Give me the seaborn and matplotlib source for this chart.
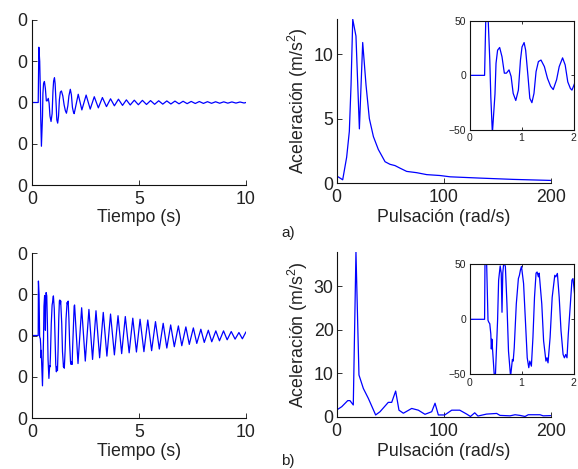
import matplotlib
matplotlib.use("Agg")
import matplotlib.pyplot as plt
import seaborn as sns
import pandas as pd

# ---------------- data ----------------
# a) time response (s, m/s^2)
t_a = [0, 0.29, 0.32, 0.36, 0.39, 0.41, 0.44, 0.49, 0.51, 0.54, 0.58, 0.625, 0.67, 0.71,
       0.76, 0.80, 0.84, 0.89, 0.94, 0.98, 1.01, 1.05, 1.08, 1.125, 1.16, 1.20, 1.24, 1.28,
       1.325, 1.375, 1.44, 1.50, 1.56, 1.61, 1.675, 1.725, 1.79, 1.84, 1.89, 1.94, 1.97, 2.00,
       2.16, 2.33, 2.53, 2.72, 2.91, 3.10, 3.29, 3.48, 3.67, 3.85, 4.04, 4.23, 4.41, 4.59,
       4.78, 4.97, 5.16, 5.35, 5.54, 5.73, 5.92, 6.11, 6.30, 6.49, 6.68, 6.87, 7.06, 7.25,
       7.44, 7.63, 7.82, 8.01, 8.20, 8.39, 8.58, 8.77, 8.96, 9.15, 9.34, 9.53, 9.72, 9.91, 10.0]
acc_a = [0, 0, 67, 50, 14, -20, -53, -17, 11, 23, 25.5, 17, 2, 2,
         5, -1, -16.5, -23, -13.5, 14, 26, 30, 23, -1, -21, -25, -16.5, 3.4,
         12.6, 14, 8, -2.8, -10, -13, -4, 8, 16, 9.5, -6, -12, -13.5, -10,
         10, -9, 9, -8, 7, -6.5, 6, -5, 4.5, -4, 4, -3.5, 3.2, -3,
         2.8, -2.7, 2.6, -2.4, 2.3, -2.2, 2.1, -2.0, 1.9, -1.8, 1.7, -1.6, 1.5, -1.4,
         1.3, -1.2, 1.2, -1.1, 1.0, -1.0, 0.9, -0.9, 0.8, -0.8, 0.7, -0.7, 0.6, -0.6, 0]

# b) time response (s, m/s^2)
t_b = [0, 0.29, 0.30, 0.33, 0.356, 0.375, 0.39, 0.41, 0.42, 0.43, 0.45, 0.49, 0.54, 0.56,
       0.59, 0.61, 0.625, 0.64, 0.66, 0.69, 0.72, 0.75, 0.79, 0.825, 0.84, 0.86, 0.90, 0.94,
       0.96, 0.98, 1.00, 1.04, 1.075, 1.11, 1.14, 1.16, 1.19, 1.22, 1.25, 1.28, 1.30, 1.325,
       1.34, 1.39, 1.425, 1.47, 1.49, 1.51, 1.55, 1.59, 1.64, 1.66, 1.69, 1.725, 1.76, 1.80,
       1.825, 1.85, 1.875, 1.90, 1.94, 1.97, 1.99, 2.15, 2.32, 2.49, 2.66, 2.83, 2.99, 3.16,
       3.33, 3.50, 3.67, 3.85, 4.02, 4.19, 4.36, 4.54, 4.71, 4.88, 5.05, 5.23, 5.41, 5.59,
       5.77, 5.95, 6.13, 6.30, 6.48, 6.65, 6.84, 7.00, 7.19, 7.35, 7.54, 7.70, 7.89, 8.05,
       8.24, 8.40, 8.59, 8.76, 8.95, 9.12, 9.31, 9.49, 9.67, 9.83, 10.0]
acc_b = [0, 0, 66, 50, -1, -3, -4, -13.5, -27, -18, -32, -61, -1, 35.6,
         48.5, 42, 6.4, 42, 52, 48, 14, -29, -52, -36.5, -38, -26, 14, 37,
         40, 45, 48, 32.5, -1, -35, -44, -38, -42.6, -16.5, 20, 42, 43, 38.6,
         42, 14, -19.6, -38, -35, -39.6, -16.5, 20, 40, 38.6, 41.7, 20, -10.4, -32,
         -35, -32, -35, -13.5, 14, 35.6, 37, -34, 33.6, -31, 31.6, -29, 30, -27,
         28, -25, 26, -23.5, 24, -22, 23, -21, 21, -20, 19.7, -19.6, 18.8, -18.4,
         16.8, -16.4, 14.8, -15.2, 12.8, -13.6, 11.6, -12.4, 10.4, -10.8, 9.2, -9.6, 7.6, -8.4,
         6.4, -7.6, 5.6, -6.4, 5.6, -5.2, 4.8, -4.4, 3.6, -4.0, 4.4]

# a) spectrum (rad/s, m/s^2)
w_a = [0, 5.6, 9.3, 11.8, 13.4, 15.0, 18.0, 21.2, 24.3, 27.4, 30.5, 34.3, 38.9, 45.2,
       49.8, 54.5, 59.2, 65.4, 74.8, 84.1, 96.6, 106, 134, 165, 200]
spec_a = [0.55, 0.25, 2.0, 4.0, 7.6, 12.7, 11.4, 4.2, 10.9, 7.6, 5.0, 3.6, 2.6, 1.65,
          1.45, 1.35, 1.15, 0.9, 0.8, 0.65, 0.58, 0.48, 0.38, 0.28, 0.2]

# b) spectrum (rad/s, m/s^2)
w_b = [0, 4.7, 10.3, 12.4, 15.5, 18.0, 20.8, 24.9, 29.6, 36.4, 40.5, 48.2, 51.4, 55.1,
       58.2, 62.3, 70.1, 76.3, 82.5, 88.8, 91.9, 95.0, 101, 107.5, 115, 121.5, 125, 129,
       132, 140, 149.5, 152.6, 162, 166.7, 171.3, 176, 179, 190, 193, 200]
spec_b = [1.54, 2.3, 3.7, 3.7, 2.7, 37.9, 9.6, 6.5, 4.2, 0.4, 1.15, 3.3, 3.3, 5.9,
          1.5, 0.8, 1.9, 1.5, 0.55, 1.15, 3.1, 0.4, 0.4, 1.5, 1.5, 0.6, 0.05, 0.9,
          0.15, 0.6, 0.75, 0.3, 0.2, 0.45, 0.3, 0.05, 0.45, 0.45, 0.2, 0.25]

time_ticks = [0, 5, 10]
time_yticks = [-100, -50, 0, 50, 100]
# only the last digit of each label is visible in the (cropped) reference
time_yticklabels = ["0", "0", "0", "0", "0"]
freq_ticks = [0, 100, 200]
spec_a_ticks = [0, 5, 10]
spec_b_ticks = [0, 10, 20, 30]
inset_xticks = [0, 1, 2]
inset_yticks = [-50, 0, 50]
inset_yticklabels = ["\u221250", "0", "50"]
panel_labels = ["a)", "b)"]

# ---------------- style ----------------
sns.set_theme(style="ticks")
plt.rcParams["font.family"] = ["Liberation Sans", "DejaVu Sans"]
plt.rcParams["mathtext.fontset"] = "custom"
plt.rcParams["mathtext.rm"] = "Liberation Sans"
plt.rcParams["mathtext.default"] = "regular"
TXT = "#222222"
BLUE = "#0000ff"
LW = 0.9
FS = 12.8

W, H = 578, 469
fig = plt.figure(figsize=(W / 100, H / 100), dpi=100)


def rect(x0, y0, x1, y1):
    return [x0 / W, (H - y1) / H, (x1 - x0) / W, (y1 - y0) / H]


def main_style(ax):
    sns.despine(ax=ax)
    for s in ("left", "bottom"):
        ax.spines[s].set_linewidth(0.8)
        ax.spines[s].set_color("#111111")
    ax.tick_params(direction="in", length=3.5, width=0.6, labelsize=FS,
                   colors="#111111", labelcolor=TXT)


def draw(ax, x, y):
    df = pd.DataFrame({"x": x, "y": y})
    sns.lineplot(data=df, x="x", y="y", ax=ax, color=BLUE, linewidth=LW,
                 estimator=None, sort=False)
    ax.set_xlabel("")
    ax.set_ylabel("")


rows = [
    dict(t=t_a, a=acc_a, w=w_a, s=spec_a, sticks=spec_a_ticks,
         left=(32, 20, 246, 185), right=(336.7, 19.3, 550.7, 183),
         inset=(469.5, 20.7, 573.5, 130), label_y=233),
    dict(t=t_b, a=acc_b, w=w_b, s=spec_b, sticks=spec_b_ticks,
         left=(32, 253, 246, 418), right=(336.7, 252, 550.7, 416.7),
         inset=(469.5, 264.3, 573.5, 374.3), label_y=461),
]

for i, r in enumerate(rows):
    # time response
    ax = fig.add_axes(rect(*r["left"]))
    draw(ax, r["t"], r["a"])
    ax.set_xlim(0, 10)
    ax.set_ylim(-100, 100)
    main_style(ax)
    ax.set_xticks(time_ticks)
    ax.set_yticks(time_yticks)
    ax.set_yticklabels(time_yticklabels)
    ax.tick_params(axis="y", pad=3.2)
    ax.tick_params(axis="x", pad=4.5)
    ax.set_xlabel("Tiempo (s)", fontsize=FS, color=TXT, va="center")
    ax.xaxis.set_label_coords(0.5, -33 / 165)

    # spectrum
    ax2 = fig.add_axes(rect(*r["right"]))
    draw(ax2, r["w"], r["s"])
    ax2.set_xlim(0, 200)
    ax2.set_ylim(0, max(r["s"]))
    main_style(ax2)
    ax2.set_xticks(freq_ticks)
    ax2.set_yticks(r["sticks"])
    ax2.tick_params(axis="y", pad=2.3)
    ax2.tick_params(axis="x", pad=4.5)
    h2 = r["right"][3] - r["right"][1]
    ax2.set_xlabel("Pulsación (rad/s)", fontsize=FS, color=TXT, va="center")
    ax2.xaxis.set_label_coords(0.5, -35 / h2)
    ax2.set_ylabel("Aceleración (m/s$^2$)", fontsize=FS, color=TXT, va="center")
    ax2.yaxis.set_label_coords(-38.7 / 214, 0.5)

    # inset
    ax3 = fig.add_axes(rect(*r["inset"]))
    draw(ax3, r["t"], r["a"])
    ax3.set_xlim(0, 2)
    ax3.set_ylim(-50, 50)
    ax3.set_xticks(inset_xticks)
    ax3.set_yticks(inset_yticks)
    ax3.set_yticklabels(inset_yticklabels)
    for s in ax3.spines.values():
        s.set_linewidth(0.8)
        s.set_color("#111111")
    ax3.tick_params(direction="in", length=2.5, width=0.6, labelsize=7.5,
                    top=True, right=True, pad=2.5, colors="#111111", labelcolor=TXT)
    ax3.set_facecolor("white")

    fig.text(281 / W, 1 - r["label_y"] / H, panel_labels[i], fontsize=11,
             color=TXT, ha="left", va="center")

fig.savefig("out.png", dpi=100)
